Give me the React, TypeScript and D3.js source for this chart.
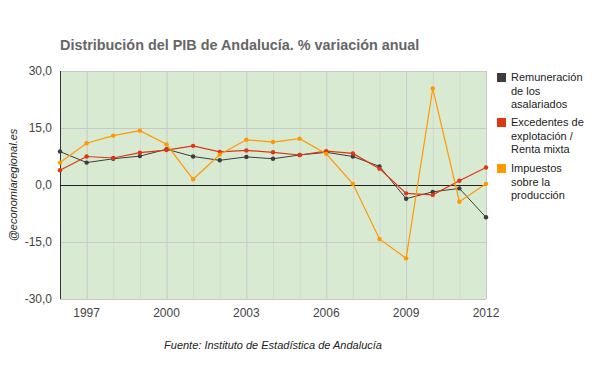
import { useEffect, useRef } from "react";
import * as d3 from "d3";

const years = [1996, 1997, 1998, 1999, 2000, 2001, 2002, 2003, 2004, 2005, 2006, 2007, 2008, 2009, 2010, 2011, 2012];
const remuneracion = [8.8, 5.9, 6.9, 7.6, 9.4, 7.5, 6.5, 7.4, 6.9, 7.9, 8.6, 7.5, 4.9, -3.6, -1.8, -0.9, -8.5];
const excedentes = [3.9, 7.5, 7.1, 8.5, 9.2, 10.3, 8.7, 9.1, 8.6, 7.9, 8.9, 8.3, 4.3, -2.2, -2.6, 1.1, 4.6];
const impuestos = [5.9, 11.0, 13.0, 14.3, 10.7, 1.5, 8.0, 11.9, 11.3, 12.2, 8.2, 0.3, -14.2, -19.3, 25.4, -4.4, 0.3];
const yTicks = [-30, -15, 0, 15, 30];
const xTicks = [1997, 2000, 2003, 2006, 2009, 2012];

const seriesNames = [
  ["Remuneración", "de los", "asalariados"],
  ["Excedentes de", "explotación /", "Renta mixta"],
  ["Impuestos", "sobre la", "producción"],
];
const colors = ["#3d3d3d", "#dc3912", "#ff9900"];

export default function App() {
  const ref = useRef<SVGSVGElement>(null);

  useEffect(() => {
    if (!ref.current) return;
    const width = 600;
    const height = 371;
    const margin = { top: 71, right: 114, bottom: 72, left: 60 };
    const font = "'Liberation Sans', Arial, sans-serif";

    const svg = d3.select(ref.current);
    svg.selectAll("*").remove();
    svg.attr("width", width).attr("height", height);

    svg.append("rect").attr("width", width).attr("height", height).attr("fill", "#fff");

    const x = d3.scaleLinear()
      .domain([1996, 2012])
      .range([margin.left, width - margin.right]);
    const y = d3.scaleLinear()
      .domain([-30, 30])
      .range([height - margin.bottom, margin.top]);

    // Plot background
    svg.append("rect")
      .attr("x", margin.left)
      .attr("y", margin.top)
      .attr("width", x(2012) - x(1996))
      .attr("height", y(-30) - y(30))
      .attr("fill", "#d9ead3");

    // Vertical grid: minor every year, major every 3
    svg.append("g")
      .selectAll("line")
      .data(years.filter((yr) => yr > 1996))
      .join("line")
      .attr("x1", (d) => x(d) + 0.5)
      .attr("x2", (d) => x(d) + 0.5)
      .attr("y1", y(30))
      .attr("y2", y(-30))
      .attr("stroke", (d) => (xTicks.includes(d) ? "#c8c8c8" : "#d0d9cb"))
      .attr("stroke-width", 1);

    // Horizontal grid
    svg.append("g")
      .selectAll("line")
      .data(yTicks.filter((v) => v !== 0 && v !== -30))
      .join("line")
      .attr("x1", margin.left)
      .attr("x2", x(2012))
      .attr("y1", (d) => Math.round(y(d)) + 0.5)
      .attr("y2", (d) => Math.round(y(d)) + 0.5)
      .attr("stroke", "#c8c8c8");

    // Bottom border
    svg.append("line")
      .attr("x1", margin.left)
      .attr("x2", x(2012))
      .attr("y1", Math.round(y(-30)) + 0.5)
      .attr("y2", Math.round(y(-30)) + 0.5)
      .attr("stroke", "#c8c8c8");

    // Left axis line
    svg.append("line")
      .attr("x1", margin.left + 0.5)
      .attr("x2", margin.left + 0.5)
      .attr("y1", y(30))
      .attr("y2", y(-30))
      .attr("stroke", "#333");

    // Zero line
    svg.append("line")
      .attr("x1", margin.left)
      .attr("x2", x(2012))
      .attr("y1", Math.round(y(0)) + 0.5)
      .attr("y2", Math.round(y(0)) + 0.5)
      .attr("stroke", "#222");

    // Y tick labels
    svg.append("g")
      .selectAll("text")
      .data(yTicks)
      .join("text")
      .attr("x", margin.left - 8)
      .attr("y", (d) => y(d) + 4)
      .attr("text-anchor", "end")
      .attr("font-family", font)
      .attr("font-size", 12)
      .attr("fill", "#444")
      .text((d) => d3.format(".1f")(d).replace(".", ",").replace("−", "-"));

    // X tick labels
    svg.append("g")
      .selectAll("text")
      .data(xTicks)
      .join("text")
      .attr("x", (d) => x(d))
      .attr("y", y(-30) + 18)
      .attr("text-anchor", "middle")
      .attr("font-family", font)
      .attr("font-size", 12)
      .attr("fill", "#444")
      .text((d) => String(d));

    const allSeries = [remuneracion, excedentes, impuestos];
    const line = d3.line<number>()
      .x((_, i) => x(years[i]))
      .y((d) => y(d));

    allSeries.forEach((data, k) => {
      svg.append("path")
        .datum(data)
        .attr("fill", "none")
        .attr("stroke", colors[k])
        .attr("stroke-width", k === 0 ? 1 : 1.2)
        .attr("d", line);
      svg.append("g")
        .selectAll("circle")
        .data(data)
        .join("circle")
        .attr("cx", (_, i) => x(years[i]))
        .attr("cy", (d) => y(d))
        .attr("r", 2.2)
        .attr("fill", colors[k]);
    });

    // Title
    svg.append("text")
      .attr("x", 60)
      .attr("y", 50)
      .attr("font-family", font)
      .attr("font-size", 14.4)
      .attr("font-weight", "bold")
      .attr("fill", "#666")
      .text("Distribución del PIB de Andalucía. % variación anual");

    // Legend
    const legendTops = [73, 118, 164];
    seriesNames.forEach((lines, k) => {
      const g = svg.append("g");
      g.append("rect")
        .attr("x", 497)
        .attr("y", legendTops[k])
        .attr("width", 9)
        .attr("height", 9)
        .attr("fill", colors[k]);
      lines.forEach((t, j) => {
        g.append("text")
          .attr("x", 511)
          .attr("y", legendTops[k] + 8 + j * 13.6)
          .attr("font-family", font)
          .attr("font-size", 11)
          .attr("fill", "#222")
          .text(t);
      });
    });

    // Y axis title
    svg.append("text")
      .attr("transform", `translate(17,${y(0)}) rotate(-90)`)
      .attr("text-anchor", "middle")
      .attr("font-family", font)
      .attr("font-size", 11)
      .attr("font-style", "italic")
      .attr("fill", "#222")
      .text("@economiaregional.es");

    // Source
    svg.append("text")
      .attr("x", 273)
      .attr("y", 349)
      .attr("text-anchor", "middle")
      .attr("font-family", font)
      .attr("font-size", 11)
      .attr("font-style", "italic")
      .attr("fill", "#222")
      .text("Fuente: Instituto de Estadística de Andalucía");
  }, []);

  return (
    <div style={{ position: "absolute", left: 0, top: 0 }}>
      <svg ref={ref} style={{ display: "block" }} />
    </div>
  );
}
